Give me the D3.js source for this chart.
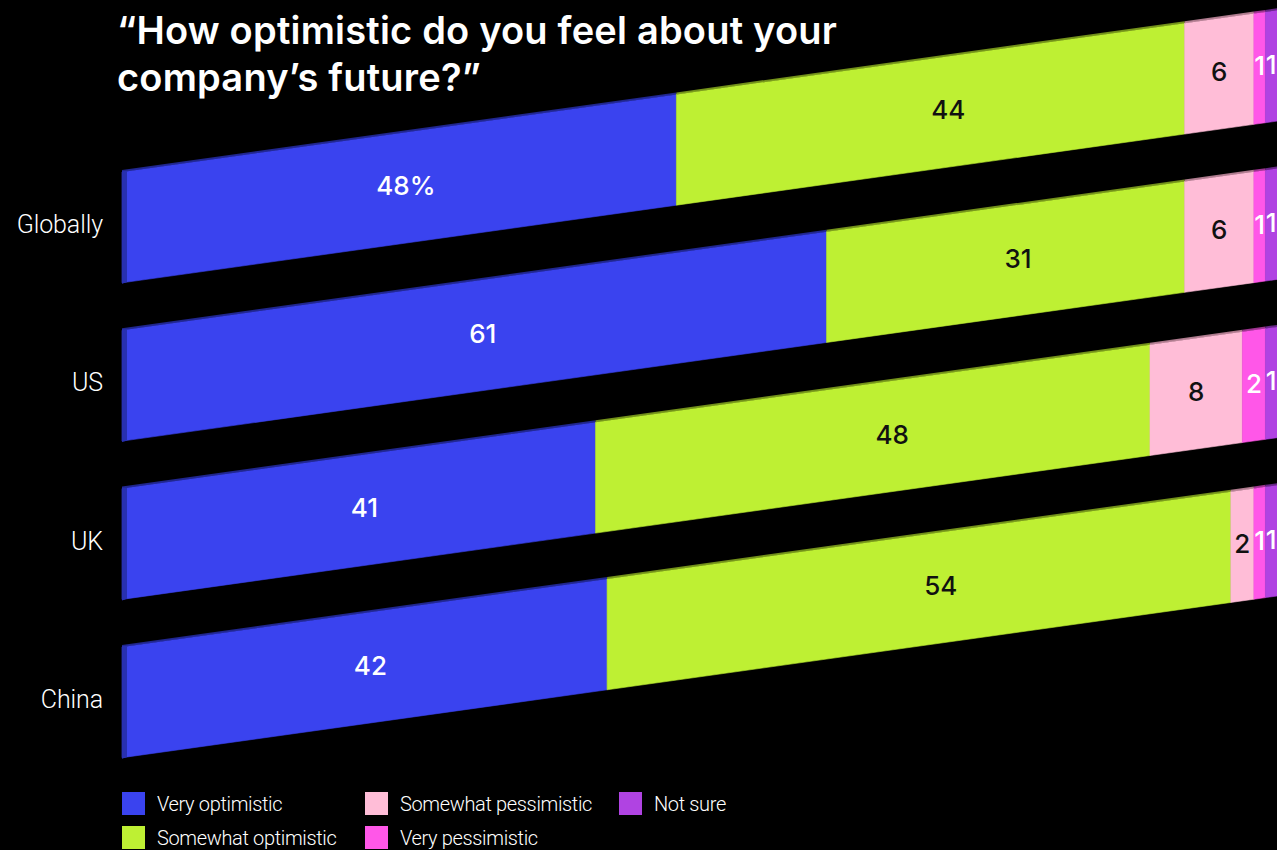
<!DOCTYPE html>
<html><head><meta charset="utf-8">
<script src="https://cdn.jsdelivr.net/npm/d3@7"></script>
<style>
html,body{margin:0;padding:0;background:#000;}
svg{display:block;}
</style></head>
<body>
<svg id="chart" width="1277" height="850"></svg>
<script>
const categories = ["Globally", "US", "UK", "China"];
const seriesNames = ["Very optimistic", "Somewhat optimistic", "Somewhat pessimistic", "Very pessimistic", "Not sure"];
const veryOptimistic = [48, 61, 41, 42];
const somewhatOptimistic = [44, 31, 48, 54];
const somewhatPessimistic = [6, 6, 8, 2];
const veryPessimistic = [1, 1, 2, 1];
const notSure = [1, 1, 1, 1];
const valueLabels = [
  ["48%", "44", "6", "1", "1"],
  ["61", "31", "6", "1", "1"],
  ["41", "48", "8", "2", "1"],
  ["42", "54", "2", "1", "1"]
];
const colors = ["#3a43ef", "#bef033", "#ffbdd7", "#ff57e8", "#b043e2"];
const sideColors = ["#2830b0", "#8fb420", "#d898b0", "#c040b0", "#8030a8"];
const labelColors = ["#ffffff", "#111111", "#111111", "#ffffff", "#ffffff"];

const series = [veryOptimistic, somewhatOptimistic, somewhatPessimistic, veryPessimistic, notSure];

const svg = d3.select("#chart");
const x = d3.scaleLinear().domain([0, 100]).range([122, 1277]);
const y = d3.scaleBand().domain(categories).range([172, 757.7]).paddingInner(0.3).paddingOuter(0);
const slope = -0.14;
const sk = px => slope * (px - 122);

const stackData = categories.map((c, i) => {
  let acc = 0;
  return series.map((s, k) => {
    const d = {cat: c, i, k, x0: acc, x1: acc + s[i], label: valueLabels[i][k]};
    acc += s[i];
    return d;
  });
});

// title
const title = svg.append("text").attr("x", 117).attr("fill", "#fff")
  .attr("font-family", "Inter, 'Noto Sans', sans-serif").attr("font-weight", 600)
  .attr("font-size", 38).attr("letter-spacing", 0.2);
title.append("tspan").attr("x", 117).attr("y", 44).text("\u201CHow optimistic do you feel about your");
title.append("tspan").attr("x", 117).attr("y", 91).text("company\u2019s future?\u201D");

const h = y.bandwidth();
const bars = svg.append("g");
stackData.forEach(row => {
  const top = y(row[0].cat);
  row.forEach(d => {
    const xa = x(d.x0), xb = x(d.x1);
    const pts = [[xa, top + sk(xa)], [xb, top + sk(xb)], [xb, top + h + sk(xb)], [xa, top + h + sk(xa)]];
    bars.append("polygon").attr("points", pts.map(p => p.join(",")).join(" "))
      .attr("fill", colors[d.k]).attr("stroke", colors[d.k]).attr("stroke-width", 0.6);
    const tp = [[xa, top + sk(xa) - 2], [xb, top + sk(xb) - 2], [xb, top + sk(xb)], [xa, top + sk(xa)]];
    bars.append("polygon").attr("points", tp.map(p => p.join(",")).join(" "))
      .attr("fill", sideColors[d.k]).attr("opacity", 0.8);
  });
  const xa = x(0);
  const side = [[xa, top + sk(xa) - 1], [xa + 5, top + sk(xa + 5)], [xa + 5, top + h + sk(xa + 5)], [xa, top + h + sk(xa) + 1]];
  bars.append("polygon").attr("points", side.map(p => p.join(",")).join(" ")).attr("fill", sideColors[0]);
});

// value labels
const labels = svg.append("g").attr("font-family", "Inter, 'Noto Sans', sans-serif")
  .attr("font-weight", 500).attr("font-size", 26).attr("text-anchor", "middle");
stackData.forEach(row => {
  const top = y(row[0].cat);
  row.forEach(d => {
    const w = x(d.x1) - x(d.x0);
    const cx = (x(d.x0) + x(d.x1)) / 2 + (w > 200 && d.k > 0 ? 0.035 * w : (w > 200 ? 0.012 * w : 0));
    labels.append("text").attr("x", cx).attr("y", top + h / 2 + sk(cx) - 2)
      .attr("dy", "0.36em").attr("fill", labelColors[d.k]).text(d.label);
  });
});

// category labels
svg.append("g").selectAll("text").data(categories).join("text")
  .attr("x", 103).attr("y", c => y(c) + h / 2 - 3).attr("dy", "0.35em")
  .attr("text-anchor", "end").attr("fill", "#fff")
  .attr("font-family", "Roboto, sans-serif").attr("font-weight", 300)
  .attr("font-size", 25).attr("letter-spacing", -0.1).text(c => c);

// legend
const legendPos = [[122, 792], [122, 826], [365, 792], [365, 826], [619, 792]];
const lg = svg.append("g");
seriesNames.forEach((n, k) => {
  const [lx, ly] = legendPos[k];
  lg.append("rect").attr("x", lx).attr("y", ly).attr("width", 23).attr("height", 23).attr("fill", colors[k]);
  lg.append("text").attr("x", lx + 35).attr("y", ly + 12).attr("dy", "0.35em")
    .attr("fill", "#fff").attr("font-family", "Roboto, sans-serif").attr("font-weight", 300)
    .attr("font-size", 20).attr("letter-spacing", -0.35).text(n);
});
</script>
</body></html>
